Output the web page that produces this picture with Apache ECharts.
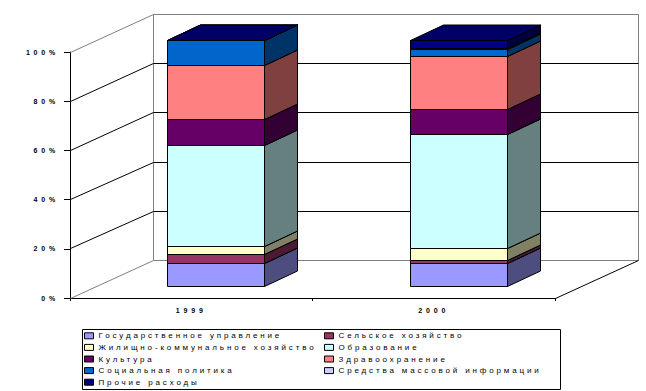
<!DOCTYPE html>
<html><head><meta charset="utf-8">
<script src="https://cdn.jsdelivr.net/npm/echarts@6/dist/echarts.min.js"></script>
<style>
html,body{margin:0;padding:0;background:#fff;}
#c{width:646px;height:391px;}
#c text[style*="Liberation"]{letter-spacing:3.8px;}
#c text[style*="Arial"]{letter-spacing:2.85px;}
</style></head><body><div id="c"></div>
<script>
// ---- data ----
const categories = ['1999', '2000'];
const seriesNames = [
  'Государственное управление',
  'Сельское хозяйство',
  'Жилищно-коммунальное хозяйство',
  'Образование',
  'Культура',
  'Здравоохранение',
  'Социальная политика',
  'Средства массовой информации',
  'Прочие расходы'
];
const govAdmin    = [9.3, 9.25];
const agriculture = [3.7, 1.35];
const housing     = [3.4, 4.8];
const education   = [40.8, 46.5];
const culture     = [10.7, 10.2];
const health      = [21.9, 21.4];
const social      = [10.2, 2.85];
const massMedia   = [0, 0.2];
const other       = [0, 3.45];
const yTicks = [0, 20, 40, 60, 80, 100];

const values = [govAdmin, agriculture, housing, education, culture, health, social, massMedia, other];
const colors = ['#9999FF','#993366','#FFFFCC','#CCFFFF','#660066','#FF8080','#0066CC','#CCCCFF','#000080'];

// ---- 3D geometry (pixels) ----
const DX = 83, DY = -37.5;       // wall depth
const OX = 25, OY = -11.5;       // bar front offset from front plane
const BDX = 33, BDY = -15.5;     // bar depth
const r = v => Math.round(v - 0.5) + 0.5;

function shade(hex, f) {
  const n = parseInt(hex.slice(1), 16);
  const c = [(n >> 16) & 255, (n >> 8) & 255, n & 255].map(v => Math.round(v * f));
  return 'rgb(' + c.join(',') + ')';
}

function wallItem(params, api) {
  const cs = params.coordSys;
  const v = api.value(1);
  const y = api.coord([0, v])[1];
  const xl = cs.x, xr = cs.x + cs.width;
  const edge = (v === 0 || v === 100);
  const col = edge ? '#808080' : '#000000';
  const children = [{
    type: 'polyline',
    shape: { points: [[r(xl), r(y)], [r(xl + DX), r(y + DY)], [r(xr + DX), r(y + DY)]] },
    style: { stroke: col, fill: 'none', lineWidth: 1 }
  }];
  if (v === 0) {
    const yTop = api.coord([0, 100])[1];
    children.push({ type: 'line', shape: { x1: r(xl + DX), y1: r(y + DY), x2: r(xl + DX), y2: r(yTop + DY) }, style: { stroke: '#808080', lineWidth: 1 } });
    children.push({ type: 'line', shape: { x1: r(xr + DX), y1: r(y + DY), x2: r(xr + DX), y2: r(yTop + DY) }, style: { stroke: '#808080', lineWidth: 1 } });
    children.push({ type: 'line', shape: { x1: r(xr), y1: r(y), x2: r(xr + DX), y2: r(y + DY) }, style: { stroke: '#000000', lineWidth: 1 } });
  }
  return { type: 'group', children };
}

function barItem(params, api) {
  const cat = api.value(0), base = api.value(1), top = api.value(2);
  const p0 = api.coord([cat, base]), p1 = api.coord([cat, top]);
  const bw = api.size([1, 0])[0] * 0.4;
  const x0 = r(p0[0] - bw / 2 + OX), x1 = r(p0[0] + bw / 2 + OX);
  const yB = r(p0[1] + OY), yT = r(p1[1] + OY);
  const c = colors[params.seriesIndex - 1];
  const st = fill => ({ fill, stroke: '#000', lineWidth: 1, lineJoin: 'miter' });
  return {
    type: 'group',
    children: [
      { type: 'polygon', shape: { points: [[x1, yB], [x1 + BDX, yB + BDY], [x1 + BDX, yT + BDY], [x1, yT]] }, style: st(shade(c, 0.5)) },
      { type: 'polygon', shape: { points: [[x0, yT], [x1, yT], [x1 + BDX, yT + BDY], [x0 + BDX, yT + BDY]] }, style: st(shade(c, 0.8)) },
      { type: 'rect', shape: { x: x0, y: yT, width: x1 - x0, height: yB - yT }, style: st(c) }
    ]
  };
}

const series = [{
  type: 'custom', name: '_walls', renderItem: wallItem, silent: true, z: 1,
  data: yTicks.map(v => [0, v]), encode: { x: 0, y: 1 }
}];
const cum = categories.map(() => 0);
seriesNames.forEach((name, i) => {
  const data = categories.map((c, j) => {
    const b = cum[j];
    cum[j] += values[i][j];
    return [j, b, cum[j]];
  });
  series.push({
    type: 'custom', name, renderItem: barItem, z: 2 + i, silent: true,
    itemStyle: { color: colors[i] },
    data, encode: { x: 0, y: [1, 2] }
  });
});

const legendBase = {
  orient: 'vertical', top: 330, itemWidth: 9, itemHeight: 6, itemGap: 0, icon: 'rect',
  padding: 0, selectedMode: false,
  itemStyle: { borderColor: '#000', borderWidth: 1 },
  textStyle: { fontSize: 8, fontFamily: 'Arial', color: '#000', lineHeight: 11.6 }
};

const chart = echarts.init(document.getElementById('c'), null, { renderer: 'svg', width: 646, height: 391 });
chart.setOption({
  animation: false,
  backgroundColor: '#fff',
  color: colors,
  grid: { left: 70, top: 52, width: 485, height: 246 },
  xAxis: {
    type: 'category', data: categories, boundaryGap: true,
    axisLine: { lineStyle: { color: '#000', width: 1 } },
    axisTick: { show: true, length: 3, lineStyle: { color: '#000' } },
    axisLabel: { fontSize: 7, fontWeight: 'bold', fontFamily: 'Liberation Sans', color: '#000', margin: 9 },
    splitLine: { show: false }
  },
  yAxis: {
    type: 'value', min: 0, max: 100, interval: 20,
    axisLine: { show: true, lineStyle: { color: '#000', width: 1 } },
    axisTick: { show: true, length: 6, lineStyle: { color: '#000' } },
    axisLabel: { formatter: '{value}%', fontSize: 7, fontWeight: 'bold', fontFamily: 'Liberation Sans', color: '#000', margin: 11 },
    splitLine: { show: false }
  },
  legend: [
    Object.assign({}, legendBase, { left: 84, data: [0, 2, 4, 6, 8].map(i => seriesNames[i]) }),
    Object.assign({}, legendBase, { left: 324, data: [1, 3, 5, 7].map(i => seriesNames[i]) })
  ],
  graphic: [{
    type: 'rect', silent: true,
    shape: { x: 82.5, y: 329.5, width: 478, height: 60 },
    style: { fill: 'none', stroke: '#000', lineWidth: 1 }
  }],
  series
});
</script></body></html>
